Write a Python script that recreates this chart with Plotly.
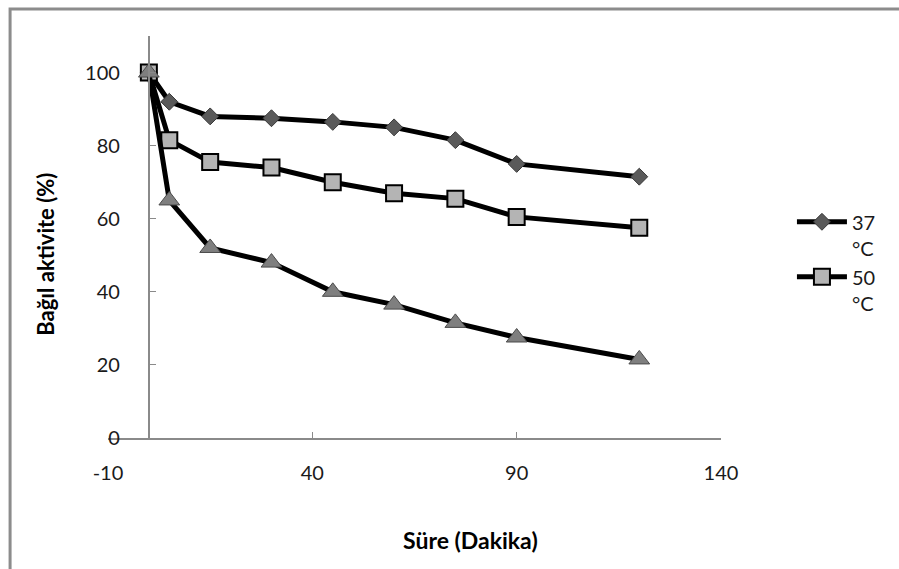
import plotly.graph_objects as go

# Sampling times (minutes)
sure = [0, 5, 15, 30, 45, 60, 75, 90, 120]

# Relative activity (%) per incubation temperature
aktivite_37 = [100, 92, 88, 87.5, 86.5, 85, 81.5, 75, 71.5]
aktivite_50 = [100, 81.5, 75.5, 74, 70, 67, 65.5, 60.5, 57.5]
aktivite_3 = [100, 65, 52, 48, 40, 36.5, 31.5, 27.5, 21.5]

x_ticks = [-10, 40, 90, 140]
y_ticks = [0, 20, 40, 60, 80, 100]

FONT = "Lato, 'Open Sans', sans-serif"
AXIS_GRAY = "#8a8a8a"

# plot-area geometry in pixels
W, H = 899, 569
L, R, T, B = 107.5, 178, 35.5, 131
pw = W - L - R
ph = H - T - B


def px_x(p):
    return (p - L) / pw


def px_y(p):
    return (H - B - p) / ph


fig = go.Figure()

fig.add_trace(go.Scatter(
    x=sure, y=aktivite_37, name="37<br>°C", mode="lines+markers",
    line=dict(color="black", width=5),
    marker=dict(symbol="diamond", size=13, color="#5a5a5a",
                line=dict(color="#3a3a3a", width=1)),
))
fig.add_trace(go.Scatter(
    x=sure, y=aktivite_50, name="50<br>°C", mode="lines+markers",
    line=dict(color="black", width=5),
    marker=dict(symbol="square", size=16, color="#b4b4b4",
                line=dict(color="black", width=2)),
))
fig.add_trace(go.Scatter(
    x=sure, y=aktivite_3, name="Seri 3", mode="lines+markers",
    showlegend=False,
    line=dict(color="black", width=5),
    marker=dict(symbol="triangle-up", size=18, color="#7f7f7f",
                line=dict(color="#4a4a4a", width=1)),
))

fig.update_layout(
    width=W, height=H,
    margin=dict(l=L, r=R, t=T, b=B, pad=0),
    paper_bgcolor="white", plot_bgcolor="white",
    font=dict(family=FONT, size=20, color="#1a1a1a"),
    xaxis=dict(
        range=[-10, 140], tickvals=x_ticks, ticktext=[str(v) for v in x_ticks],
        showgrid=False, zeroline=False,
        showline=True, linecolor=AXIS_GRAY, linewidth=1.5,
        ticks="inside", ticklen=6, tickcolor=AXIS_GRAY, tickwidth=1,
        ticklabelstandoff=16, tickfont=dict(size=20),
    ),
    yaxis=dict(
        range=[0, 110], tickvals=y_ticks, ticktext=[str(v) for v in y_ticks],
        anchor="free", position=10 / 150,
        showgrid=False, zeroline=False,
        showline=True, linecolor=AXIS_GRAY, linewidth=2,
        ticks="inside", ticklen=6, tickcolor=AXIS_GRAY, tickwidth=1,
        ticklabelstandoff=24, tickfont=dict(size=20),
    ),
    legend=dict(
        x=px_x(792), y=px_y(202), xanchor="left", yanchor="top",
        font=dict(size=20), valign="top", bgcolor="rgba(0,0,0,0)",
        tracegroupgap=0, itemwidth=50,
    ),
    annotations=[
        dict(text="<b>Süre (Dakika)</b>", xref="paper", yref="paper",
             x=px_x(470), y=px_y(540), xanchor="center", yanchor="middle",
             showarrow=False, font=dict(size=23, color="black")),
        dict(text="<b>Bağıl aktivite (%)</b>", xref="paper", yref="paper",
             x=px_x(45), y=px_y(254), xanchor="center", yanchor="middle",
             showarrow=False, textangle=-90,
             font=dict(size=22, color="black")),
    ],
    shapes=[
        # outer chart frame (left and top edges fall inside the page)
        dict(type="rect", xref="paper", yref="paper",
             x0=px_x(9.5), x1=px_x(960), y0=px_y(640), y1=px_y(8.5),
             line=dict(color="#8c8c8c", width=3), fillcolor="rgba(0,0,0,0)",
             layer="below"),
    ],
)

fig.write_html("out.html")
